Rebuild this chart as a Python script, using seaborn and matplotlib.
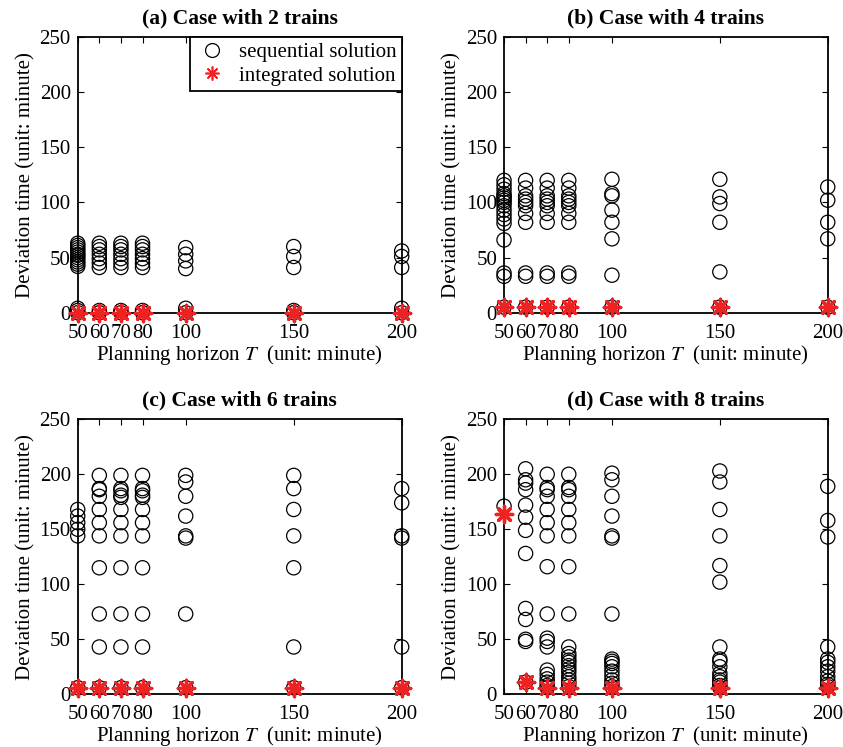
import matplotlib
matplotlib.use("Agg")
import matplotlib.pyplot as plt
import pandas as pd
import seaborn as sns
from matplotlib.lines import Line2D

# planning horizons (x axis)
horizons = [50, 60, 70, 80, 100, 150, 200]

# sequential solution: deviation times per horizon, one dict per case
seq_2 = {
    50: [42, 44, 46, 48, 50, 52, 53, 55, 57, 59, 61, 63, 0, 2, 4],
    60: [41, 45, 49, 53, 57, 60, 63, 0, 2],
    70: [41, 45, 49, 53, 57, 60, 63, 0, 2],
    80: [41, 45, 49, 53, 57, 60, 63, 0, 2],
    100: [40, 47, 53, 59, 0, 4],
    150: [41, 51, 60, 0, 2],
    200: [41, 51, 56, 0, 4],
}
seq_4 = {
    50: [81, 85, 89, 93, 97, 100, 102, 104, 106, 108, 112, 116, 120, 66, 36, 33, 5],
    60: [82, 90, 97, 100, 103, 106, 113, 120, 36, 33, 5],
    70: [82, 90, 97, 100, 103, 106, 113, 120, 36, 33, 5],
    80: [82, 90, 97, 100, 103, 106, 113, 120, 36, 33, 5],
    100: [121, 108, 106, 93, 82, 67, 34, 5],
    150: [121, 105, 99, 82, 37, 5],
    200: [114, 102, 82, 67, 5],
}
seq_6 = {
    50: [144, 150, 156, 162, 168, 6],
    60: [199, 187, 186, 180, 168, 156, 144, 115, 73, 43, 6],
    70: [199, 187, 185, 181, 179, 168, 156, 144, 115, 73, 43, 6],
    80: [199, 187, 185, 181, 179, 168, 156, 144, 115, 73, 43, 6],
    100: [199, 193, 180, 162, 144, 142, 73, 6],
    150: [199, 187, 168, 144, 115, 43, 6],
    200: [187, 174, 144, 142, 43, 6],
}
seq_8 = {
    50: [171],
    60: [205, 195, 192, 186, 172, 161, 149, 128, 78, 68, 50, 48, 11],
    70: [200, 188, 186, 180, 168, 156, 144, 116, 73, 51, 48, 43,
         22, 18, 14, 11, 8, 6],
    80: [200, 188, 186, 180, 168, 156, 144, 116, 73, 43,
         37, 34, 31, 29, 26, 23, 20, 16, 13, 10, 7],
    100: [201, 195, 180, 162, 144, 142, 73, 32, 30, 28, 25, 21, 17, 13, 10, 7],
    150: [203, 193, 168, 144, 117, 102, 43, 32, 30, 25, 19, 16, 13, 11, 8, 6],
    200: [189, 158, 143, 43, 32, 29, 25, 21, 16, 12, 9, 7],
}

# integrated solution: one value per horizon
int_2 = [0, 0, 0, 0, 0, 0, 0]
int_4 = [5, 5, 5, 5, 5, 5, 5]
int_6 = [6, 6, 6, 6, 6, 6, 6]
int_8 = [164, 11, 6, 6, 6, 6, 6]

titles = ["(a) Case with 2 trains", "(b) Case with 4 trains",
          "(c) Case with 6 trains", "(d) Case with 8 trains"]

sns.set_theme(style="ticks")
plt.rcParams["font.family"] = ["Liberation Serif", "DejaVu Serif"]
plt.rcParams["mathtext.fontset"] = "stix"
plt.rcParams.update({
    "xtick.direction": "in", "ytick.direction": "in",
    "xtick.top": True, "ytick.right": True,
    "xtick.major.size": 4, "ytick.major.size": 4,
    "xtick.major.width": 0.8, "ytick.major.width": 0.8,
    "axes.linewidth": 1.3, "axes.edgecolor": "black",
    "xtick.color": "black", "ytick.color": "black",
    "text.color": "black", "axes.labelcolor": "black",
})

fig = plt.figure(figsize=(8.43, 7.47), dpi=100)
positions = [
    [0.0922, 0.5814, 0.3843, 0.3690],
    [0.5979, 0.5814, 0.3840, 0.3690],
    [0.0922, 0.0706, 0.3843, 0.3681],
    [0.5979, 0.0706, 0.3840, 0.3681],
]

star = (8, 2, 0)

for pos, seq, integ, title in zip(positions, [seq_2, seq_4, seq_6, seq_8],
                                  [int_2, int_4, int_6, int_8], titles):
    ax = fig.add_axes(pos)
    seq_df = pd.DataFrame(
        [(h, v) for h, vals in seq.items() for v in vals],
        columns=["horizon", "deviation"],
    )
    int_df = pd.DataFrame({"horizon": horizons, "deviation": integ})

    sns.scatterplot(data=seq_df, x="horizon", y="deviation", ax=ax,
                    marker="o", s=105, facecolor="none", edgecolor="black",
                    linewidth=0.9, clip_on=False, zorder=3)
    sns.scatterplot(data=int_df, x="horizon", y="deviation", ax=ax,
                    marker=star, s=140, color="#ee2222", linewidth=2.4,
                    clip_on=False, zorder=4)

    ax.set_xlim(50, 200)
    ax.set_ylim(0, 250)
    ax.set_xticks(horizons)
    ax.set_yticks([0, 50, 100, 150, 200, 250])
    ax.tick_params(axis="x", labelsize=15, pad=8)
    ax.tick_params(axis="y", labelsize=15, pad=5)
    ax.set_xlabel(r"Planning horizon $T$  (unit: minute)", fontsize=15, labelpad=0)
    ax.set_ylabel("Deviation time (unit: minute)", fontsize=15, labelpad=3)
    ax.set_title(title, fontsize=15.5, fontweight="bold", pad=10)

    if title.startswith("(a)"):
        handles = [
            Line2D([], [], marker="o", ls="none", mfc="none", mec="black",
                   ms=10, mew=0.9),
            Line2D([], [], marker=star, ls="none", color="#ee2222",
                   ms=10, mew=1.2),
        ]
        leg = ax.legend(handles, ["sequential solution", "integrated solution"],
                        loc="upper right", fontsize=15, frameon=True,
                        fancybox=False, borderaxespad=0, handletextpad=0.5,
                        handlelength=1.6, borderpad=0.25, labelspacing=0.2)
        leg.get_frame().set_edgecolor("black")
        leg.get_frame().set_linewidth(1.3)
        leg.get_frame().set_alpha(1)

fig.savefig("out.png", dpi=100)
